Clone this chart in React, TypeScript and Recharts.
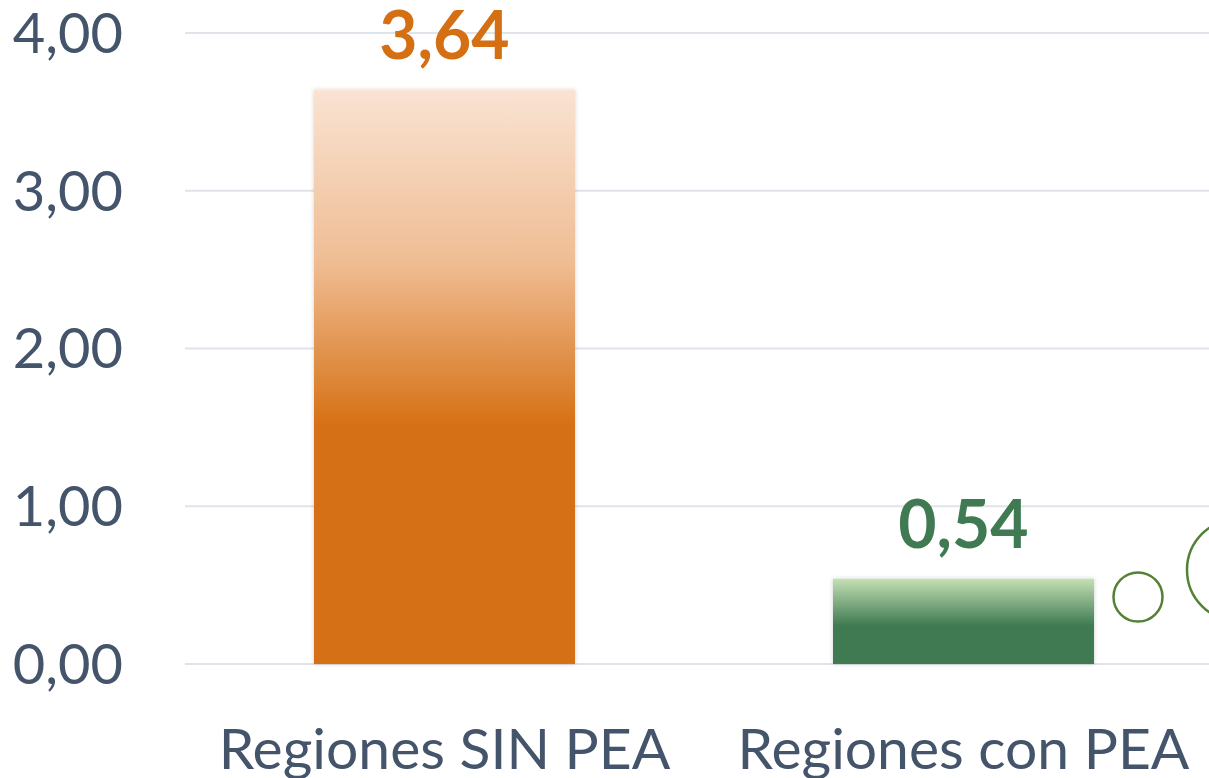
import React from 'react';
import { BarChart, Bar, XAxis, YAxis, CartesianGrid, LabelList, Cell } from 'recharts';

const categories = ['Regiones SIN PEA', 'Regiones con PEA'];
const values = [3.64, 0.54];
const yTicks = [0, 1, 2, 3, 4];
const barGradients = ['gradOrange', 'gradGreen'];
const labelColors = ['#d46f14', '#3f7a52'];

const data = categories.map((c, i) => ({ name: c, value: values[i] }));

const FONT = 'Lato, "Open Sans", sans-serif';
const fmt = (v: number) => v.toFixed(2).replace('.', ',');

const renderLabel = (props: any) => {
  const { x, y, width, value, index } = props;
  return (
    <text
      x={x + width / 2}
      y={y - 31}
      textAnchor="middle"
      fill={labelColors[index]}
      fontFamily={FONT}
      fontWeight={700}
      fontSize={66}
    >
      {fmt(value)}
    </text>
  );
};

export default function App() {
  return (
    <div style={{ position: 'absolute', left: 0, top: 0, width: 1209, height: 778, overflow: 'hidden', background: '#fff' }}>
      <BarChart
        width={1240}
        height={778}
        data={data}
        margin={{ top: 33, right: 17, bottom: 0, left: 0 }}
        barSize={261}
      >
        <defs>
          <linearGradient id="gradOrange" x1="0" y1="0" x2="0" y2="1">
            <stop offset="0%" stopColor="#f9e3d3" />
            <stop offset="30%" stopColor="#efbd93" />
            <stop offset="59%" stopColor="#d66f12" />
            <stop offset="100%" stopColor="#d66f12" />
          </linearGradient>
          <linearGradient id="gradGreen" x1="0" y1="0" x2="0" y2="1">
            <stop offset="0%" stopColor="#c5e0b4" />
            <stop offset="55%" stopColor="#3f7a52" />
            <stop offset="100%" stopColor="#3f7a52" />
          </linearGradient>
          <filter id="barShadow" x="-5%" y="-5%" width="110%" height="110%">
            <feDropShadow dx="0" dy="0" stdDeviation="2" floodColor="#000" floodOpacity="0.18" />
          </filter>
        </defs>
        <CartesianGrid vertical={false} stroke="#dfe3ea" strokeWidth={2} />
        <XAxis
          dataKey="name"
          axisLine={false}
          tickLine={false}
          tickSize={0}
          tickMargin={65}
          height={114}
          tick={{ fill: '#44546a', fontSize: 57, fontFamily: FONT }}
          interval={0}
        />
        <YAxis
          domain={[0, 4]}
          ticks={yTicks}
          axisLine={false}
          tickLine={false}
          tickSize={0}
          tickMargin={62}
          width={185}
          tickFormatter={fmt}
          tick={{ fill: '#44546a', fontSize: 56, fontFamily: FONT }}
        />
        <Bar dataKey="value" isAnimationActive={false} filter="url(#barShadow)">
          {data.map((d, i) => (
            <Cell key={d.name} fill={`url(#${barGradients[i]})`} />
          ))}
          <LabelList dataKey="value" content={renderLabel} />
        </Bar>
      </BarChart>
      <svg width={1209} height={778} style={{ position: 'absolute', left: 0, top: 0, pointerEvents: 'none' }}>
        <circle cx={1138} cy={597} r={24.5} fill="none" stroke="#548235" strokeWidth={2.5} />
        <circle cx={1238} cy={570} r={51} fill="none" stroke="#548235" strokeWidth={2.5} />
      </svg>
    </div>
  );
}
